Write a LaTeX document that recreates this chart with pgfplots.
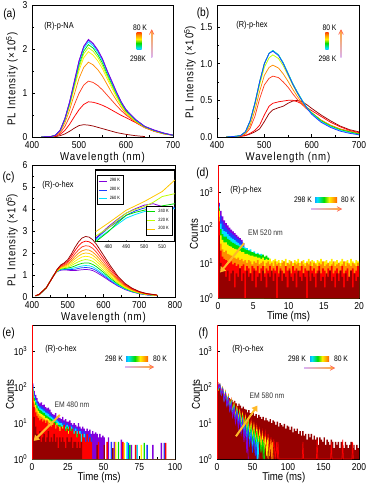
\documentclass[border=0pt]{standalone}
\usepackage{fontspec}
\setmainfont{Liberation Sans}[FakeStretch=0.85]
\usepackage{pgfplots}
\usepackage{pgfplotstable}
\pgfplotsset{compat=1.18}
\usetikzlibrary{arrows.meta}

\definecolor{cDR}{RGB}{150,0,0}
\definecolor{cR}{RGB}{255,0,0}
\definecolor{cRO}{RGB}{255,60,30}
\definecolor{cO}{RGB}{255,140,0}
\definecolor{cGo}{RGB}{255,200,0}
\definecolor{cY}{RGB}{255,240,0}
\definecolor{cYG}{RGB}{190,255,0}
\definecolor{cG}{RGB}{0,220,0}
\definecolor{cC}{RGB}{0,225,255}
\definecolor{cB}{RGB}{30,60,255}
\definecolor{cP}{RGB}{130,0,220}
\definecolor{cArr}{RGB}{255,185,40}

\pgfdeclarehorizontalshading{rainbowh}{100bp}{color(0bp)=(cP); color(15bp)=(cB); color(30bp)=(cC); color(45bp)=(cG); color(57bp)=(cY); color(70bp)=(cO); color(84bp)=(cR); color(100bp)=(cDR)}
\pgfdeclareverticalshading{rainbowv}{100bp}{color(0bp)=(cP); color(15bp)=(cB); color(30bp)=(cC); color(45bp)=(cG); color(57bp)=(cY); color(70bp)=(cO); color(84bp)=(cR); color(100bp)=(cDR)}

\newcommand{\spaced}{\addfontfeatures{LetterSpace=8}}

\pgfplotsset{
  panel/.style={
    scale only axis, anchor=north west,
    axis line style={line width=0.6pt},
    tick align=inside, tick pos=left,
    major tick length=2.5pt, minor tick length=1.5pt,
    every tick/.style={black, line width=0.5pt},
    tick label style={font=\fontsize{7.5}{8}\selectfont},
    label style={font=\fontsize{8.5}{9}\selectfont},
    /pgf/number format/assume math mode=true,
    every axis plot/.append style={line width=0.55pt},
  },
  spec/.style={panel, xmin=400, xmax=700, xtick={400,500,600,700}, minor x tick num=1,
    xlabel={\spaced Wavelength (nm)}, ylabel={\spaced PL Intensity (×10\textsuperscript{5})},
    xlabel style={at={(axis description cs:0.5,-0.157)}, anchor=center}},
  dkplot/.style={panel, ymin=1, yminorticks=false, ytick={1,10,100,1000},
    yticklabels={10\textsuperscript{0},10\textsuperscript{1},10\textsuperscript{2},10\textsuperscript{3}},
    ylabel={Counts}, xlabel={Time (ms)}, minor x tick num=1},
}

\pgfplotstableread{
x dr r ro o y yg g c b p
420 0 0 0 0 0 0 0 0 0 0
440 0 0 .01 .01 .01 .01 .01 .01 .01 .01
450 .01 .02 .03 .03 .04 .04 .04 .04 .04 .04
460 .03 .06 .09 .12 .14 .14 .15 .15 .15 .16
470 .07 .15 .24 .32 .37 .39 .40 .41 .42 .42
480 .13 .29 .46 .61 .70 .73 .76 .78 .79 .80
490 .20 .46 .73 .97 1.11 1.16 1.20 1.23 1.25 1.27
500 .26 .62 .99 1.33 1.51 1.58 1.64 1.68 1.72 1.73
510 .28 .74 1.18 1.58 1.80 1.89 1.95 2.01 2.05 2.06
520 .27 .80 1.27 1.70 1.94 2.03 2.10 2.16 2.20 2.22
530 .25 .79 1.24 1.64 1.86 1.95 2.02 2.07 2.11 2.13
540 .22 .76 1.17 1.53 1.73 1.81 1.87 1.92 1.96 1.98
550 .19 .72 1.07 1.38 1.55 1.62 1.68 1.73 1.76 1.78
560 .16 .67 .95 1.19 1.32 1.38 1.43 1.47 1.50 1.51
570 .13 .61 .83 1.00 1.11 1.16 1.20 1.23 1.25 1.27
580 .10 .55 .71 .83 .90 .94 .97 .99 1.01 1.02
590 .08 .49 .60 .67 .71 .74 .76 .78 .79 .80
600 .06 .44 .50 .53 .56 .58 .59 .61 .62 .62
620 .03 .33 .34 .35 .36 .37 .38 .39 .40 .40
640 .01 .21 .22 .22 .22 .23 .23 .24 .24 .24
660 nan .13 .13 .14 .14 .14 .15 .15 .15 .16
680 nan .07 .08 .08 .08 .08 .08 .09 .09 .09
700 nan .04 .04 .04 .04 .04 .04 .04 .04 .04
}\tabA

\pgfplotstableread{
x dr r ro o yg g c b
420 0 0 0 0 0 0 0 0
440 .005 .005 .005 .005 .01 .01 .01 .01
450 .01 .01 .01 .02 .02 .02 .02 .02
460 .02 .02 .04 .05 .06 .07 .07 .07
470 .04 .05 .12 .16 .20 .22 .22 .22
480 .07 .09 .28 .36 .43 .46 .46 .46
490 .11 .16 .52 .62 .71 .75 .75 .75
500 .21 .30 .71 .84 .95 1.0 1.0 1.0
510 .32 .42 .80 .95 1.08 1.14 1.14 1.14
518 .37 .46 .83 .98 1.12 1.18 1.18 1.17
530 .40 .48 .81 .94 1.07 1.12 1.12 1.11
540 .42 .49 .75 .86 .97 1.01 1.01 1.00
550 .46 .50 .68 .76 .84 .87 .87 .86
560 .49 .50 .59 .65 .71 .73 .73 .72
570 .50 .48 .51 .55 .59 .61 .61 .60
580 .48 .45 .44 .46 .49 .50 .50 .49
590 .44 .40 .38 .39 .40 .40 .40 .39
600 .39 .36 .33 .33 .33 .33 .32 .31
620 .30 .28 .23 .23 .22 .22 .21 .20
640 .22 .20 .16 .16 .15 .15 .14 .13
660 .15 .14 .11 .11 .10 .10 .09 .08
680 .10 .09 .08 .07 .07 .07 .06 .05
700 .07 .06 .05 .04 .04 .04 .03 .03
}\tabB

\pgfplotstableread{
x p b c g yg y go o ro r dr
410 .05 .05 .05 .05 .05 .05 .06 .06 .06 .06 .06
420 .10 .10 .10 .10 .11 .11 .11 .11 .11 .12 .12
440 .42 .42 .42 .42 .42 .42 .42 .42 .42 .42 .42
460 .98 .98 .98 .97 .97 .97 .97 .96 .96 .95 .95
470 1.15 1.16 1.16 1.17 1.18 1.19 1.20 1.21 1.22 1.24 1.25
480 1.22 1.23 1.25 1.27 1.29 1.31 1.34 1.36 1.39 1.42 1.45
490 1.23 1.25 1.27 1.29 1.33 1.36 1.39 1.42 1.46 1.51 1.55
500 1.22 1.25 1.28 1.32 1.36 1.41 1.46 1.51 1.57 1.63 1.70
510 1.20 1.25 1.29 1.35 1.43 1.50 1.58 1.65 1.74 1.85 1.95
520 1.20 1.26 1.33 1.41 1.52 1.62 1.73 1.83 1.96 2.10 2.25
530 1.22 1.30 1.37 1.48 1.60 1.73 1.86 1.99 2.14 2.32 2.50
540 1.24 1.33 1.41 1.53 1.67 1.82 1.96 2.10 2.28 2.48 2.68
550 1.25 1.34 1.43 1.55 1.70 1.85 2.00 2.15 2.33 2.54 2.75
560 1.24 1.33 1.42 1.54 1.68 1.83 1.98 2.13 2.31 2.51 2.72
570 1.20 1.28 1.37 1.48 1.62 1.76 1.90 2.04 2.21 2.40 2.60
580 1.12 1.20 1.27 1.38 1.50 1.63 1.76 1.89 2.04 2.22 2.40
600 .92 .98 1.04 1.12 1.21 1.31 1.41 1.51 1.63 1.76 1.90
620 .70 .74 .78 .84 .91 .98 1.05 1.12 1.20 1.30 1.40
640 .50 .53 .55 .59 .64 .68 .73 .77 .82 .89 .95
660 .34 .36 .37 .40 .42 .45 .48 .51 .54 .58 .62
680 .23 .24 .25 .26 .28 .30 .32 .33 .35 .38 .40
700 .15 .16 .16 .17 .18 .19 .20 .21 .22 .24 .25
720 .10 .10 .11 .11 .12 .12 .13 .14 .14 .15 .16
750 .06 .06 .06 .07 .07 .07 .08 .08 .08 .09 .09
}\tabC

\pgfplotstableread{
x p b c g yg o
473 .05 .04 .02 .00 .08 .14
480 .21 .19 .15 .14 .19 .26
485 .31 .28 .24 .26 .30 .35
490 .40 .37 .33 .37 .40 .44
495 .46 .43 .38 .41 .45 .50
500 .51 .47 .42 .44 .49 .56
505 .53 .49 .45 .47 .55 .63
510 .49 .49 .47 .50 .63 .70
517 .46 .48 .46 .53 .67 .86
}\tabI

\begin{document}
\begin{tikzpicture}
\path[use as bounding box] (0,0) rectangle (279.75pt,-366pt);

% ---------------- (a)
\begin{axis}[spec, at={(24pt,-3.75pt)}, width=105.75pt, height=99pt,
  ymin=0, ymax=3, ytick={0,1,2,3}, minor y tick num=1,
  ylabel style={at={(axis description cs:-0.142,0.44)}, anchor=center}]
\addplot[cDR] table[x=x,y=dr]{\tabA};
\addplot[cR] table[x=x,y=r]{\tabA};
\addplot[cRO] table[x=x,y=ro]{\tabA};
\addplot[cO] table[x=x,y=o]{\tabA};
\addplot[cY] table[x=x,y=y]{\tabA};
\addplot[cYG] table[x=x,y=yg]{\tabA};
\addplot[cG] table[x=x,y=g]{\tabA};
\addplot[cC] table[x=x,y=c]{\tabA};
\addplot[cB] table[x=x,y=b]{\tabA};
\addplot[cP] table[x=x,y=p]{\tabA};
\end{axis}

% ---------------- (b)
\begin{axis}[spec, at={(162.75pt,-3.75pt)}, width=106.5pt, height=99pt,
  ymin=0, ymax=1.8, ytick={0,0.5,1,1.5}, minor y tick num=1,
  yticklabel style={/pgf/number format/.cd, fixed, fixed zerofill, precision=1},
  ylabel style={at={(axis description cs:-0.19,0.49)}, anchor=center}]
\addplot[cDR] table[x=x,y=dr]{\tabB};
\addplot[cR] table[x=x,y=r]{\tabB};
\addplot[cRO] table[x=x,y=ro]{\tabB};
\addplot[cO] table[x=x,y=o]{\tabB};
\addplot[cYG] table[x=x,y=yg]{\tabB};
\addplot[cG] table[x=x,y=g]{\tabB};
\addplot[cC] table[x=x,y=c]{\tabB};
\addplot[cB] table[x=x,y=b]{\tabB};
\end{axis}

% ---------------- (c)
\begin{axis}[spec, at={(24pt,-123.75pt)}, width=107.25pt, height=99pt,
  xmin=400, xmax=800, xtick={400,500,600,700,800},
  ymin=0, ymax=6, ytick={0,1,2,3,4,5,6}, minor y tick num=1,
  ylabel style={at={(axis description cs:-0.14,0.43)}, anchor=center}]
\addplot[cP] table[x=x,y=p]{\tabC};
\addplot[cB] table[x=x,y=b]{\tabC};
\addplot[cC] table[x=x,y=c]{\tabC};
\addplot[cG] table[x=x,y=g]{\tabC};
\addplot[cYG] table[x=x,y=yg]{\tabC};
\addplot[cY] table[x=x,y=y]{\tabC};
\addplot[cGo] table[x=x,y=go]{\tabC};
\addplot[cO] table[x=x,y=o]{\tabC};
\addplot[cRO] table[x=x,y=ro]{\tabC};
\addplot[cR] table[x=x,y=r]{\tabC};
\addplot[cDR] table[x=x,y=dr]{\tabC};
\end{axis}

% inset of (c)
\begin{axis}[scale only axis, anchor=north west, at={(71.8pt,-127.5pt)}, width=59.3pt, height=53.8pt,
  xmin=473, xmax=517, ymin=0, ymax=1, ytick=\empty, xtick={480,490,500,510},
  tick align=inside, xtick pos=left, major tick length=1.5pt,
  axis line style={line width=0.9pt}, axis background/.style={fill=white},
  tick label style={font=\fontsize{4}{4.5}\selectfont}, xticklabel style={yshift=1pt},
  /pgf/number format/assume math mode=true,
  legend style={at={(0.02,0.93)}, anchor=north west, font=\fontsize{3.5}{4}\selectfont,
    draw=black, line width=0.3pt, inner sep=0.6pt, row sep=-1.5pt, legend cell align=left},
  legend image code/.code={\draw[#1, line width=0.6pt] (0pt,0pt)--(6pt,0pt);}]
\addplot[cP, line width=0.6pt] table[x=x,y=p]{\tabI};
\addplot[cB, line width=0.6pt] table[x=x,y=b]{\tabI};
\addplot[cC, line width=0.6pt] table[x=x,y=c]{\tabI};
\legend{298 K, 280 K, 260 K}
\end{axis}
\begin{axis}[scale only axis, anchor=north west, at={(71.8pt,-127.5pt)}, width=59.3pt, height=53.8pt,
  xmin=473, xmax=517, ymin=0, ymax=1, hide axis,
  legend style={at={(0.97,0.09)}, anchor=south east, font=\fontsize{3.5}{4}\selectfont,
    draw=black, line width=0.3pt, inner sep=0.6pt, row sep=-1.5pt, legend cell align=left},
  legend image code/.code={\draw[#1, line width=0.6pt] (0pt,0pt)--(6pt,0pt);}]
\addplot[cG, line width=0.6pt] table[x=x,y=g]{\tabI};
\addplot[cYG, line width=0.6pt] table[x=x,y=yg]{\tabI};
\addplot[cGo, line width=0.6pt] table[x=x,y=o]{\tabI};
\legend{240 K, 220 K, 200 K}
\end{axis}

% ---------------- (d)
\begin{axis}[ymode=log, dkplot, at={(163.5pt,-123.75pt)}, width=105.75pt, height=99.75pt,
  xmin=0, xmax=20, xtick={0,5,10,15,20}, ymax=6000,
  ylabel style={at={(axis description cs:-0.17,0.48)}, anchor=center},
  xlabel style={at={(axis description cs:0.5,-0.14)}, anchor=center}]
\addplot[const plot, fill=cP, draw=none] coordinates {(0,1)(0,500)(0.25,300)(0.5,210)(0.75,160)(1,135)(1.25,115)(1.5,100)(1.75,88)(2,78)(2.25,70)(2.5,62)(2.75,55)(3,50)(3.25,45)(3.5,1)};
\addplot[const plot, fill=cB, draw=none] coordinates {(0,1)(0,450)(0.25,220)(0.5,150)(0.75,120)(1,100)(1.25,88)(1.5,78)(1.75,70)(2,63)(2.25,57)(2.5,52)(2.75,47)(3,43)(3.25,40)(3.5,36)(3.75,1)};
\addplot[const plot, fill=cC, draw=none] coordinates {(0,1)(0,400)(0.25,130)(0.5,90)(0.75,80)(1,75)(1.25,65)(1.5,58)(1.75,52)(2,48)(2.25,44)(2.5,40)(2.75,37)(3,33)(3.25,31)(3.5,29)(3.75,27)(4,26)(4.25,23)(4.5,24)(4.75,20)(5,21)(5.25,18)(5.5,19)(5.75,17)(6,18)(6.25,15)(6.5,1)};
\addplot[const plot, fill=cG, draw=none] coordinates {(0,1)(0,350)(0.25,90)(0.5,65)(0.75,55)(1,55)(1.25,48)(1.5,44)(1.75,40)(2,37)(2.25,35)(2.5,32)(2.75,31)(3,29)(3.25,27)(3.5,26)(3.75,24)(4,23)(4.25,22)(4.5,21)(4.75,20)(5,19)(5.25,18)(5.5,18)(5.75,17)(6,16)(6.25,17)(6.5,15)(6.75,16)(7,14)(7.25,13)(7.5,1)};
\addplot[const plot, fill=cY, draw=none] coordinates {(0,1)(0,300)(0.25,60)(0.5,45)(0.75,38)(1,38)(1.25,33)(1.5,30)(1.75,29)(2,26)(2.25,25)(2.5,24)(2.75,22)(3,22)(3.25,20)(3.5,20)(3.75,18)(4,18)(4.25,17)(4.5,16)(4.75,16)(5,15)(5.25,15)(5.5,14)(5.75,14)(6,13)(6.25,14)(6.5,12)(6.75,13)(7,12)(7.25,13)(7.5,11)(7.75,12)(8,13)(8.25,11)(8.5,12)(8.75,10)(9,12)(9.25,11)(9.5,13)(9.75,10)(10,12)(10.25,11)(10.5,10)(10.75,12)(11,11)(11.25,13)(11.5,10)(11.75,11)(12,12)(12.25,10)(12.5,11)(12.75,13)(13,10)(13.25,12)(13.5,11)(13.75,10)(14,12)(14.25,11)(14.5,13)(14.75,10)(15,11)(15.25,12)(15.5,10)(15.75,11)(16,13)(16.25,10)(16.5,11)(16.75,12)(17,10)(17.25,11)(17.5,13)(17.75,10)(18,11)(18.25,12)(18.5,10)(18.75,13)(19,11)(19.25,10)(19.5,12)(19.75,11)(20,1)};
\addplot[const plot, fill=cO, draw=none] coordinates {(0,1)(0,200)(0.25,35)(0.5,24)(0.75,20)(1,22)(1.25,18)(1.5,17)(1.75,16)(2,15)(2.25,14)(2.5,13)(2.75,14)(3,12)(3.25,13)(3.5,11)(3.75,12)(4,10)(4.25,12)(4.5,11)(4.75,9)(5,11)(5.25,10)(5.5,12)(5.75,9)(6,10)(6.25,11)(6.5,8)(6.75,10)(7,11)(7.25,9)(7.5,10)(7.75,8)(8,11)(8.25,9)(8.5,10)(8.75,8)(9,10)(9.25,11)(9.5,8)(9.75,10)(10,9)(10.25,11)(10.5,8)(10.75,10)(11,9)(11.25,10)(11.5,8)(11.75,11)(12,9)(12.25,8)(12.5,10)(12.75,9)(13,11)(13.25,8)(13.5,10)(13.75,9)(14,8)(14.25,10)(14.5,9)(14.75,11)(15,8)(15.25,9)(15.5,10)(15.75,8)(16,9)(16.25,11)(16.5,8)(16.75,9)(17,10)(17.25,8)(17.5,9)(17.75,11)(18,8)(18.25,10)(18.5,9)(18.75,8)(19,10)(19.25,9)(19.5,8)(19.75,10)(20,1)};
\addplot[const plot, fill=cR, draw=none] coordinates {(0,1)(0,150)(0.25,22)(0.5,15)(0.75,13)(1,12)(1.25,11)(1.5,10)(1.75,11)(2,9)(2.25,10)(2.5,8)(2.75,9)(3,7)(3.25,8)(3.5,9)(3.75,6)(4,8)(4.25,7)(4.5,5)(4.75,8)(5,7)(5.25,6)(5.5,8)(5.75,5)(6,7)(6.25,8)(6.5,5)(6.75,7)(7,6)(7.25,8)(7.5,5)(7.75,7)(8,6)(8.25,8)(8.5,5)(8.75,7)(9,6)(9.25,4)(9.5,8)(9.75,6)(10,7)(10.25,5)(10.5,8)(10.75,6)(11,7)(11.25,5)(11.5,6)(11.75,8)(12,5)(12.25,7)(12.5,6)(12.75,4)(13,8)(13.25,6)(13.5,7)(13.75,5)(14,6)(14.25,8)(14.5,5)(14.75,7)(15,6)(15.25,4)(15.5,7)(15.75,6)(16,8)(16.25,5)(16.5,6)(16.75,7)(17,5)(17.25,6)(17.5,8)(17.75,5)(18,6)(18.25,7)(18.5,4)(18.75,6)(19,7)(19.25,5)(19.5,6)(19.75,8)(20,1)};
\addplot[const plot, fill=cDR, draw=none] coordinates {(0,1)(0,60)(0.25,10)(0.5,7)(0.75,6)(1,4)(1.25,6)(1.5,3)(1.75,5)(2,6)(2.25,2)(2.5,5)(2.75,4)(3,7)(3.25,3)(3.5,5)(3.75,1)(4,6)(4.25,4)(4.5,5)(4.75,3)(5,6)(5.25,2)(5.5,4)(5.75,5)(6,3)(6.25,6)(6.5,4)(6.75,2)(7,5)(7.25,4)(7.5,6)(7.75,3)(8,5)(8.25,1)(8.5,4)(8.75,6)(9,3)(9.25,5)(9.5,4)(9.75,2)(10,6)(10.25,4)(10.5,3)(10.75,5)(11,2)(11.25,6)(11.5,4)(11.75,3)(12,5)(12.25,4)(12.5,1)(12.75,6)(13,3)(13.25,5)(13.5,4)(13.75,2)(14,5)(14.25,6)(14.5,3)(14.75,4)(15,2)(15.25,5)(15.5,4)(15.75,6)(16,3)(16.25,4)(16.5,2)(16.75,5)(17,3)(17.25,6)(17.5,4)(17.75,2)(18,5)(18.25,3)(18.5,4)(18.75,6)(19,2)(19.25,5)(19.5,3)(19.75,4)(20,1)};
\addplot[cR, line width=0.8pt] coordinates {(0.04,1)(0.04,6000)};
\draw[cArr, line width=1.5pt, -{Triangle[length=4pt,width=5pt]}] (axis cs:3.7,36) -- (axis cs:0.3,5.3);
\end{axis}

% ---------------- (e)
\begin{axis}[ymode=log, dkplot, at={(24pt,-243.75pt)}, width=107.25pt, height=100.5pt,
  xmin=0, xmax=100, xtick={0,25,50,75,100}, ymax=5500,
  ylabel style={at={(axis description cs:-0.154,0.48)}, anchor=center},
  xlabel style={at={(axis description cs:0.47,-0.135)}, anchor=center}]
\addplot[const plot, fill=cP, draw=none] coordinates {(0,1)(0,130)(1,80)(2,62)(3,50)(4,40)(5,36)(6,38)(7,32)(8,33)(9,28)(10,26)(11,27)(12,24)(13,20)(14,18)(15,17)(16,19)(17,15)(18,16)(19,14)(20,13)(21,15)(22,12)(23,13)(24,11)(25,11)(26,12)(27,10)(28,9)(29,10)(30,9)(31,8)(32,10)(33,8)(34,7)(35,8)(36,7)(37,6)(38,7)(39,6)(40,6.6)(41,5)(42,6)(43,5)(44,5.5)(45,5)(46,4)(47,5)(48,4)(49,4.5)(50,4)(51,1)(53,4)(54,1)(57,3)(58,1)(62,3.5)(63,1)(69,2.5)(70,1)(84,2.5)(85,1)(90,2.8)(91,1)(100,1)};
\addplot[const plot, fill=cB, draw=none] coordinates {(0,1)(0,120)(1,70)(2,52)(3,42)(4,35)(5,31)(6,30)(7,28)(8,26)(9,24)(10,22)(11,21)(12,19)(13,17)(14,16)(15,15)(16,14)(17,13)(18,12)(19,12)(20,11)(21,10)(22,11)(23,9)(24,10)(25,9)(26,8)(27,9)(28,8)(29,7)(30,8)(31,7)(32,6)(33,7)(34,6)(35,5)(36,6)(37,5)(38,5)(39,4)(40,5)(41,4)(42,1)(55,3)(56,1)(67,2.8)(68,1)(80,2.5)(81,1)(92,2.8)(93,1)(100,1)};
\addplot[const plot, fill=cC, draw=none] coordinates {(0,1)(0,100)(1,58)(2,44)(3,36)(4,30)(5,27)(6,25)(7,24)(8,22)(9,20)(10,19)(11,18)(12,16)(13,15)(14,14)(15,13)(16,12)(17,12)(18,11)(19,10)(20,10)(21,9)(22,9)(23,8)(24,9)(25,8)(26,7)(27,8)(28,7)(29,6)(30,7)(31,6)(32,5)(33,6)(34,5)(35,4)(36,5)(37,1)(66,3)(67,1)(73,2.5)(74,1)(100,1)};
\addplot[const plot, fill=cG, draw=none] coordinates {(0,1)(0,90)(1,50)(2,38)(3,31)(4,26)(5,23)(6,22)(7,20)(8,19)(9,17)(10,16)(11,15)(12,14)(13,13)(14,12)(15,11)(16,11)(17,10)(18,9)(19,9)(20,8)(21,8)(22,9)(23,7)(24,8)(25,7)(26,6)(27,7)(28,6)(29,5)(30,6)(31,5)(32,4)(33,5)(34,1)(60,3)(61,1)(68,2.5)(69,1)(78,2.8)(79,1)(100,1)};
\addplot[const plot, fill=cY, draw=none] coordinates {(0,1)(0,80)(1,42)(2,32)(3,26)(4,22)(5,19)(6,18)(7,17)(8,16)(9,14)(10,14)(11,13)(12,12)(13,11)(14,10)(15,10)(16,9)(17,10)(18,8)(19,8)(20,7)(21,8)(22,7)(23,6)(24,7)(25,6)(26,5)(27,6)(28,5)(29,4)(30,5)(31,1)(58,3)(59,1)(64,2.8)(65,1)(76,2.5)(77,1)(100,1)};
\addplot[const plot, fill=cO, draw=none] coordinates {(0,1)(0,70)(1,35)(2,26)(3,21)(4,18)(5,16)(6,15)(7,14)(8,13)(9,12)(10,11)(11,11)(12,10)(13,9)(14,9)(15,8)(16,9)(17,7)(18,8)(19,7)(20,6)(21,7)(22,6)(23,5)(24,6)(25,5)(26,4)(27,5)(28,1)(100,1)};
\addplot[const plot, fill=cR, draw=none] coordinates {(0,1)(0,60)(1,28)(2,20)(3,16)(4,14)(5,12)(6,13)(7,11)(8,12)(9,10)(10,12)(11,9)(12,10)(13,8)(14,9)(15,10)(16,7)(17,9)(18,8)(19,6)(20,8)(21,7)(22,9)(23,6)(24,7)(25,5)(26,8)(27,6)(28,7)(29,5)(30,6)(31,4)(32,6)(33,5)(34,3)(35,5)(36,4)(37,3)(38,5)(39,3)(40,4)(41,3)(42,1)(46,3)(47,1)(52,3)(53,1)(63,3)(64,1)(72,2.5)(73,1)(93,2.8)(94,1)(100,1)};
\addplot[const plot, fill=cDR, draw=none] coordinates {(0,1)(0,40)(1,15)(2,8)(3,5)(4,4)(5,6)(6,3)(7,4)(8,5)(9,3)(10,4)(11,6)(12,3)(13,4)(14,3)(15,5)(16,3)(17,4)(18,2)(19,4)(20,3)(21,4)(22,3)(23,2)(24,4)(25,3)(26,3)(27,4)(28,2)(29,3)(30,3)(31,2)(32,3)(33,2)(34,3)(35,1)(45,2.5)(46,1)(50,2.5)(51,1)(56,2)(57,1)(100,1)};
\addplot[cR, line width=0.8pt] coordinates {(0.2,1)(0.2,5500)};
\draw[cArr, line width=1.5pt, -{Triangle[length=4pt,width=5pt]}] (axis cs:19.4,17) -- (axis cs:1.2,3.2);
\end{axis}

% ---------------- (f)
\begin{axis}[ymode=log, dkplot, at={(162.75pt,-243.75pt)}, width=106.5pt, height=100.5pt,
  xmin=0, xmax=200, xtick={0,50,100,150,200}, ymax=5500,
  ylabel style={at={(axis description cs:-0.148,0.48)}, anchor=center},
  xlabel style={at={(axis description cs:0.47,-0.135)}, anchor=center}]
\addplot[const plot, fill=cDR, draw=none] coordinates {(0,1)(0,140)(2,120)(4,98)(6,85)(8,72)(10,63)(12,58)(14,52)(16,50)(18,46)(20,45)(22,38)(24,42)(26,36)(28,30)(30,35)(32,31)(34,26)(36,29)(38,25)(40,24)(42,20)(44,23)(46,19)(48,17)(50,20)(52,16)(54,18)(56,14)(58,17)(60,15)(62,13)(64,15)(66,12)(68,14)(70,12)(72,11)(74,13)(76,10)(78,12)(80,11)(82,9)(84,11)(86,8)(88,10)(90,9)(92,8)(94,9.5)(96,7)(98,8.5)(100,8)(102,6.5)(104,8)(106,5.5)(108,7)(110,6)(112,7)(114,5)(116,6)(118,4.5)(120,6)(122,4.5)(124,5)(126,3.5)(128,5)(130,4)(132,5)(134,3.5)(136,4.5)(138,3.5)(140,4)(142,2.5)(144,4)(146,3.5)(148,3)(150,4)(152,2.5)(154,3.5)(156,3)(158,2.5)(160,3.5)(162,3)(164,2)(166,3)(168,2.5)(170,3)(172,2)(174,3)(176,2.5)(178,2)(180,3)(182,2.5)(184,2)(186,2.5)(188,3)(190,2)(192,2.5)(194,1.8)(196,2.5)(198,2)(200,1)};
\addplot[cR, line width=0.5pt] coordinates {(0,150)(2,86)(4,120)(6,68)(8,98)(10,46)(12,76)(14,37)(16,60)(18,28)(20,46)(22,21)(24,37)(26,16)(28,30)(30,14)(32,24)(34,11)(36,20)(38,9)(40,17)(42,7.5)(44,14)(46,6)(48,12)(50,5)(52,10)(54,4)(56,8.5)(58,3.5)(60,7)(62,3)(64,6)(66,2.5)(68,5.5)(70,2)(72,5)(74,1.5)(76,4)(78,1.2)(80,3.5)(82,1)(84,3)(85,1)(86,3)(87,1)(120,1)(121,3)(122,1)(140,1)(141,3.5)(142,1)(160,1)(161,3)(162,1)(176,1)(177,3.5)(178,1)(190,1)(191,3)(192,1)};
\addplot[cO, line width=0.5pt] coordinates {(0,150)(2,88)(4,118)(6,68)(8,96)(10,47)(12,74)(14,36)(16,58)(18,27)(20,44)(22,20)(24,35)(26,15)(28,28)(30,13)(32,22)(34,10)(36,18)(38,8)(40,15)(42,6.5)(44,12.5)(46,5.5)(48,10.5)(50,4.5)(52,9)(54,3.5)(56,7.5)(58,3)(60,6)(62,2.5)(64,5)(66,2)(68,4.5)(70,1.5)(72,4)(74,1.2)(76,3.5)(77,1)(78,3)(79,1)};
\addplot[cY, line width=0.5pt] coordinates {(0,155)(2,88)(4,120)(6,66)(8,95)(10,46)(12,72)(14,35)(16,56)(18,26)(20,42)(22,19)(24,33)(26,14)(28,26)(30,12)(32,21)(34,9)(36,17)(38,7)(40,14)(42,6)(44,11)(46,5)(48,9)(50,4)(52,8)(54,3)(56,7)(58,2.5)(60,5.5)(62,2)(64,4.5)(66,1.5)(68,4)(70,1.2)(71,3.5)(72,1)};
\addplot[cG, line width=0.5pt] coordinates {(0,160)(2,90)(4,118)(6,66)(8,92)(10,45)(12,70)(14,34)(16,53)(18,25)(20,40)(22,18)(24,31)(26,13)(28,24)(30,11)(32,19)(34,8)(36,15)(38,6)(40,12)(42,5)(44,10)(46,4)(48,8)(50,3)(52,7)(54,2.5)(56,6)(58,2)(60,4.5)(62,1.5)(64,3.5)(65,1)(66,3)(67,1)};
\addplot[cC, line width=0.5pt] coordinates {(0,160)(2,92)(4,116)(6,64)(8,90)(10,45)(12,68)(14,33)(16,51)(18,24)(20,38)(22,17)(24,28)(26,12)(28,22)(30,10)(32,17)(34,7)(36,13)(38,5)(40,10)(42,3.5)(44,8)(46,3)(48,6)(50,2)(52,5)(54,1.5)(56,4)(57,1)(58,3)(59,1)};
\addplot[cB, line width=0.5pt] coordinates {(0,165)(2,95)(4,118)(6,64)(8,88)(10,44)(12,66)(14,32)(16,49)(18,23)(20,36)(22,16)(24,27)(26,12)(28,21)(30,9)(32,16)(34,6)(36,12)(38,4.5)(40,9)(42,3)(44,7)(46,2.5)(48,5)(50,1.5)(52,4)(54,1.2)(55,3)(56,1)};
\addplot[cP, line width=0.5pt] coordinates {(0,170)(2,100)(4,120)(6,62)(8,88)(10,42)(12,65)(14,30)(16,48)(18,22)(20,34)(22,15)(24,25)(26,10)(28,19)(30,7)(32,14)(34,5)(36,10)(38,3)(40,7)(42,1.5)(43,4)(44,1)};
\addplot[cR, line width=0.8pt] coordinates {(0.4,1)(0.4,5500)};
\draw[cArr, line width=1.5pt, -{Triangle[length=4pt,width=5pt]}] (axis cs:26.7,4.3) -- (axis cs:57,31);
\end{axis}

% ---------------- annotations (pixel coordinates)
\begin{scope}[x=0.75pt, y=-0.75pt, font=\fontsize{6.5}{7}\selectfont]
\node[font=\fontsize{9}{10}\selectfont] at (9.5,14) {(a)};
\node[font=\fontsize{9}{10}\selectfont] at (203,13) {(b)};
\node[font=\fontsize{9}{10}\selectfont] at (8.5,177) {(c)};
\node[font=\fontsize{9}{10}\selectfont] at (202.5,173) {(d)};
\node[font=\fontsize{9}{10}\selectfont] at (8.5,333) {(e)};
\node[font=\fontsize{9}{10}\selectfont] at (203.5,333) {(f)};

\node at (59,26) {(R)-p-NA};
\node at (252,25) {(R)-p-hex};
\node at (58,185) {(R)-o-hex};
\node at (246,190) {(R)-p-hex};
\node at (61,349) {(R)-o-hex};
\node at (248,349) {(R)-o-hex};
\node[font=\fontsize{6}{7}\selectfont, text=black!80] at (265.5,233) {EM 520 nm};
\node[font=\fontsize{6}{7}\selectfont, text=black!80] at (72,405) {EM 480 nm};
\node[font=\fontsize{6}{7}\selectfont, text=black!80] at (267,396) {EM 580 nm};

% legend (a)
\shade[shading=rainbowv] (136.7,33) rectangle (141.7,50);
\node[font=\fontsize{6}{7}\selectfont] at (140,28) {80 K};
\node[font=\fontsize{6}{7}\selectfont] at (138,59) {298K};
\shade[bottom color=cP!30, top color=cO!75] (151.1,31) rectangle (152.3,58);
\draw[cRO!80, line width=0.5pt] (149.4,34.5)--(151.7,30)--(154,34.5);
% legend (b)
\shade[shading=rainbowv] (325.3,33) rectangle (328.7,50);
\node[font=\fontsize{6}{7}\selectfont] at (329.5,28) {80 K};
\node[font=\fontsize{6}{7}\selectfont] at (327.5,59) {298 K};
\shade[bottom color=cP!30, top color=cO!75] (340.4,31) rectangle (341.6,58);
\draw[cRO!80, line width=0.5pt] (338.7,34.5)--(341,30)--(343.3,34.5);
% legend (d)
\node[font=\fontsize{6}{7}\selectfont] at (303,200) {298 K};
\shade[shading=rainbowh] (315,198) rectangle (337,202.5);
\node[font=\fontsize{6}{7}\selectfont] at (348,200) {80 K};
\shade[left color=cP!30, right color=cO!75] (311,208.4) rectangle (340,209.6);
\draw[cRO!80, line width=0.5pt] (337,206.7)--(341.5,209)--(337,211.3);
% legend (e)
\node[font=\fontsize{6}{7}\selectfont] at (114,359) {298 K};
\shade[shading=rainbowh] (126,356) rectangle (148,361);
\node[font=\fontsize{6}{7}\selectfont] at (160,359) {80 K};
\shade[left color=cP!30, right color=cO!75] (125,366.4) rectangle (152,367.6);
\draw[cRO!80, line width=0.5pt] (149,364.7)--(153.5,367)--(149,369.3);
% legend (f)
\node[font=\fontsize{6}{7}\selectfont] at (297,359) {298 K};
\shade[shading=rainbowh] (310,356) rectangle (329,361);
\node[font=\fontsize{6}{7}\selectfont] at (341,359) {80 K};
\shade[left color=cP!30, right color=cO!75] (304,367.4) rectangle (333,368.6);
\draw[cRO!80, line width=0.5pt] (330,365.7)--(334.5,368)--(330,370.3);
\end{scope}
\end{tikzpicture}
\end{document}
